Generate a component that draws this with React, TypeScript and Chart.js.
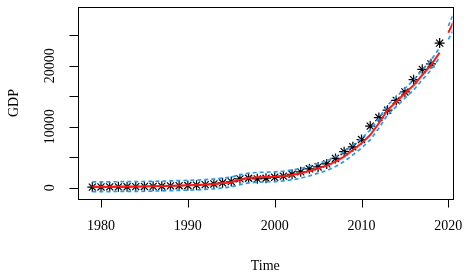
import React, { useEffect, useRef } from "react";
import { Chart, registerables } from "chart.js";
Chart.register(...registerables);

const years = [1979, 1980, 1981, 1982, 1983, 1984, 1985, 1986, 1987, 1988, 1989, 1990, 1991, 1992, 1993, 1994, 1995, 1996, 1997, 1998, 1999, 2000, 2001, 2002, 2003, 2004, 2005, 2006, 2007, 2008, 2009, 2010, 2011, 2012, 2013, 2014, 2015, 2016, 2017, 2018, 2019];
const gdp = [100, 120, 130, 140, 150, 170, 200, 220, 250, 300, 330, 360, 420, 500, 620, 800, 1000, 1450, 1550, 1450, 1550, 1700, 1900, 2200, 2600, 3100, 3400, 3900, 4800, 5900, 6700, 7900, 10100, 11500, 12700, 14300, 15700, 17700, 19400, 20300, 23700];
const fitted = [150, 160, 170, 180, 190, 200, 220, 250, 280, 320, 360, 400, 450, 520, 620, 760, 950, 1300, 1600, 1700, 1750, 1800, 1900, 2100, 2360, 2740, 3180, 3610, 4260, 5080, 6180, 7280, 8640, 10560, 12740, 14100, 15470, 16800, 18470, 20100, 22130];
const upper = [950, 960, 970, 980, 990, 1000, 1020, 1050, 1080, 1120, 1160, 1200, 1250, 1320, 1420, 1560, 1750, 2100, 2400, 2500, 2550, 2600, 2700, 2900, 3160, 3540, 3980, 4410, 5060, 5880, 6980, 8080, 9440, 11360, 13540, 14900, 16270, 17600, 19270, 20900, 22930];
const lower = [-650, -640, -630, -620, -610, -600, -580, -550, -520, -480, -440, -400, -350, -280, -180, -40, 150, 500, 800, 900, 950, 1000, 1100, 1300, 1560, 1940, 2380, 2810, 3460, 4280, 5380, 6480, 7840, 9760, 11940, 13300, 14670, 16000, 17670, 19300, 21330];
const fcYears = [2020, 2021];
const forecast = [25400, 28400];
const fcUpper = [26500, 29900];
const fcLower = [24300, 26900];

const xTicks = [1980, 1990, 2000, 2010, 2020];
const yTicks = [0, 5000, 10000, 15000, 20000, 25000];
const yLabels = [0, 10000, 20000];

const FONT = '14px "Liberation Serif", "DejaVu Serif", serif';
const RED = "#ff1a1a";
const BLUE = "rgb(40,155,240)";

const pts = (xs: number[], ys: number[]) => xs.map((x, i) => ({ x, y: ys[i] }));

const rAxes = {
  id: "rAxes",
  afterDraw(chart: any) {
    const { ctx, chartArea: a, scales } = chart;
    const xs = scales.x;
    const ys = scales.y;
    ctx.save();
    ctx.strokeStyle = "#000";
    ctx.lineWidth = 1;
    const L = Math.round(a.left) + 0.5;
    const R = Math.round(a.right) + 0.5;
    const T = Math.round(a.top) + 0.5;
    const B = Math.round(a.bottom) + 0.5;
    ctx.strokeRect(L, T, R - L, B - T);
    ctx.fillStyle = "#000";
    ctx.font = FONT;
    ctx.textAlign = "center";
    ctx.textBaseline = "alphabetic";
    ctx.beginPath();
    xTicks.forEach((t) => {
      const px = Math.round(xs.getPixelForValue(t)) + 0.5;
      ctx.moveTo(px, B);
      ctx.lineTo(px, B + 8);
    });
    yTicks.forEach((t) => {
      const py = Math.round(ys.getPixelForValue(t)) + 0.5;
      ctx.moveTo(L, py);
      ctx.lineTo(L - 9, py);
    });
    ctx.stroke();
    xTicks.forEach((t) => {
      ctx.fillText(String(t), xs.getPixelForValue(t), 229.5);
    });
    yLabels.forEach((t) => {
      ctx.save();
      ctx.translate(53.5, ys.getPixelForValue(t));
      ctx.rotate(-Math.PI / 2);
      ctx.fillText(String(t), 0, 0);
      ctx.restore();
    });
    ctx.fillText("Time", (a.left + a.right) / 2, 269.5);
    ctx.save();
    ctx.translate(17.5, (a.top + a.bottom) / 2);
    ctx.rotate(-Math.PI / 2);
    ctx.fillText("GDP", 0, 0);
    ctx.restore();
    ctx.restore();
  },
};

export default function App() {
  const ref = useRef<HTMLCanvasElement | null>(null);
  useEffect(() => {
    if (!ref.current) return;
    const lineDs = (data: any, color: string, dashed: boolean, order: number) => ({
      type: "line",
      data,
      borderColor: color,
      borderWidth: dashed ? 1.7 : 2,
      borderDash: dashed ? [4, 3] : [],
      pointRadius: 0,
      fill: false,
      tension: 0,
      clip: 0,
      order,
    });
    const chart = new Chart(ref.current, {
      type: "line",
      data: {
        datasets: [
          lineDs(pts(years, upper), BLUE, true, 1),
          lineDs(pts(years, lower), BLUE, true, 1),
          lineDs(pts(fcYears, fcUpper), BLUE, true, 1),
          lineDs(pts(fcYears, fcLower), BLUE, true, 1),
          lineDs(pts(years, fitted), RED, false, 2),
          lineDs(pts(fcYears, forecast), RED, false, 2),
          {
            type: "line",
            data: pts(years, gdp),
            showLine: false,
            pointStyle: "star",
            pointRadius: 5,
            pointBorderWidth: 1.2,
            pointBorderColor: "#000",
            pointBackgroundColor: "#000",
            borderColor: "#000",
            order: 3,
            clip: false,
          },
        ] as any,
      },
      options: {
        animation: false,
        responsive: false,
        events: [],
        layout: { padding: { left: 78, top: 7, right: 19.5, bottom: 79 } },
        plugins: { legend: { display: false }, tooltip: { enabled: false } },
        scales: {
          x: { type: "linear", display: false, min: 1977.35, max: 2020.48 },
          y: { type: "linear", display: false, min: -1852, max: 29620 },
        },
      },
      plugins: [rAxes],
    } as any);
    return () => chart.destroy();
  }, []);
  return (
    <div style={{ position: "absolute", left: 0, top: 0, width: 472, height: 278, background: "#fff" }}>
      <canvas ref={ref} width={472} height={278} style={{ width: 472, height: 278, display: "block" }} />
    </div>
  );
}
